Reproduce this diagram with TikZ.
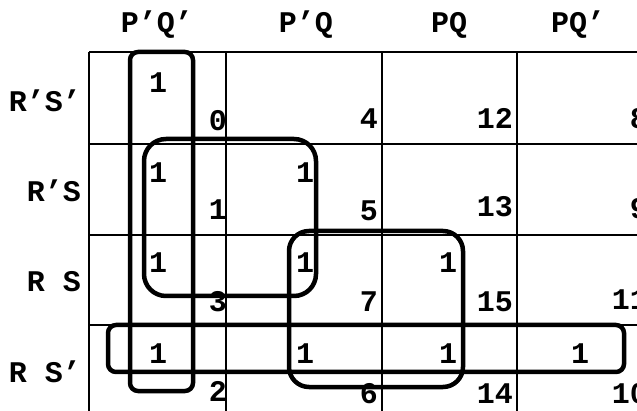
\documentclass[tikz,border=0pt]{standalone}
\usepackage{fontspec}
\newfontfamily\kmono{Liberation Mono}
\tikzset{
  gridline/.style={line width=1.6pt,black},
  loopbox/.style={line width=4.5pt,black},
  lbl/.style={font=\kmono\bfseries\fontsize{30}{30}\selectfont,inner sep=0pt},
  hdr/.style={lbl,anchor=base},
  rowlbl/.style={lbl,anchor=base east},
  cellone/.style={lbl,anchor=base},
  cellnum/.style={lbl,anchor=base east}
}
\begin{document}
\begin{tikzpicture}[x=1pt,y=-1pt]
\clip (0,0) rectangle (637,411);
\fill[white] (0,0) rectangle (637,411);
% grid
\foreach \yy in {52,144,235,325} \draw[gridline] (89,\yy) -- (640,\yy);
\foreach \xx in {89,226,382,517} \draw[gridline] (\xx,52) -- (\xx,415);
% headers
\node[hdr] (h0) at (157,33) {P’Q’};
\node[hdr] (h1) at (306,33) {P’Q};
\node[hdr] (h2) at (449,33) {PQ};
\node[hdr] (h3) at (578,33) {PQ’};
% row labels
\node[rowlbl] (r0) at (81,112) {R’S’};
\node[rowlbl] (r1) at (81,202) {R’S};
\node[rowlbl] (r2) at (81,292) {R S};
\node[rowlbl] (r3) at (81,382) {R S’};
% ones
\node[cellone] (o0) at (158,93) {1};
\node[cellone] (o1) at (158,183) {1};
\node[cellone] (o3) at (158,273) {1};
\node[cellone] (o2) at (158,363) {1};
\node[cellone] (o5) at (305,183) {1};
\node[cellone] (o7) at (305,273) {1};
\node[cellone] (o6) at (305,363) {1};
\node[cellone] (o15) at (448,273) {1};
\node[cellone] (o14) at (448,363) {1};
\node[cellone] (o10) at (580,363) {1};
% cell numbers
\node[cellnum] (n0) at (227,131) {0};
\node[cellnum] (n4) at (378,129) {4};
\node[cellnum] (n12) at (513,129) {12};
\node[cellnum] (n8) at (648,129) {8};
\node[cellnum] (n1) at (227,220) {1};
\node[cellnum] (n5) at (378,221) {5};
\node[cellnum] (n13) at (513,217) {13};
\node[cellnum] (n9) at (648,219) {9};
\node[cellnum] (n3) at (227,312) {3};
\node[cellnum] (n7) at (378,312) {7};
\node[cellnum] (n15) at (513,312) {15};
\node[cellnum] (n11) at (648,310) {11};
\node[cellnum] (n2) at (227,402) {2};
\node[cellnum] (n6) at (378,403) {6};
\node[cellnum] (n14) at (513,403) {14};
\node[cellnum] (n10) at (648,403) {10};
% loops
\draw[loopbox,rounded corners=8pt] (130,52) rectangle (193,391);
\draw[loopbox,rounded corners=22pt] (144,139) rectangle (316,296);
\draw[loopbox,rounded corners=20pt] (289,231) rectangle (463,387);
\draw[loopbox,rounded corners=8pt] (108,325) rectangle (624,372);
\end{tikzpicture}
\end{document}
